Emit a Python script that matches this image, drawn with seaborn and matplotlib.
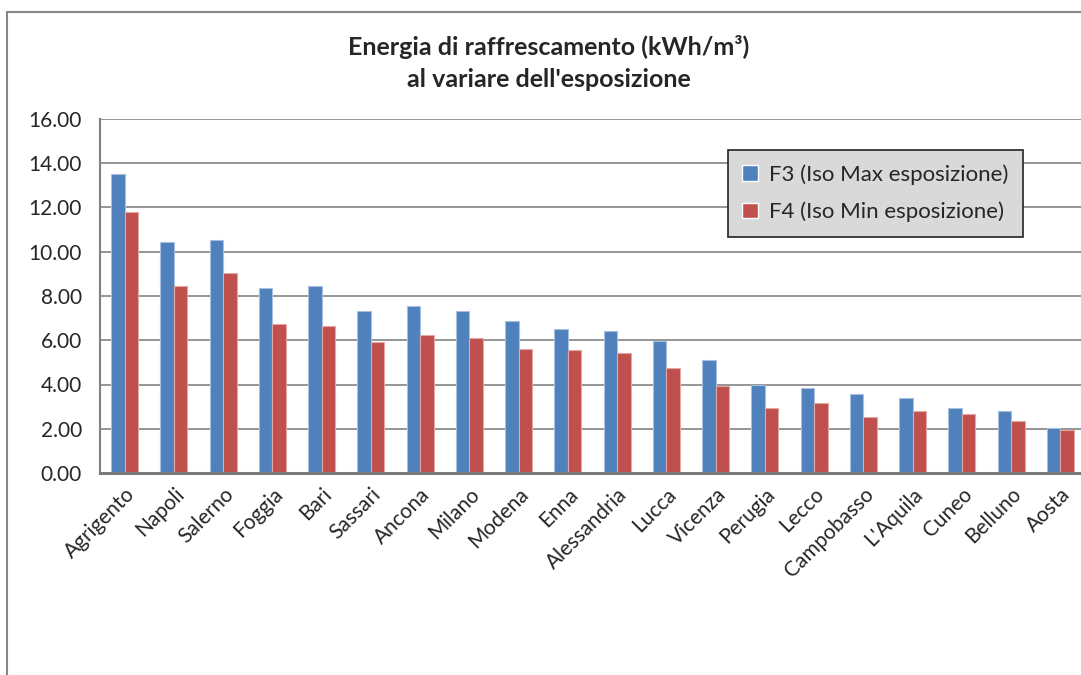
import matplotlib
matplotlib.use("Agg")
import matplotlib.pyplot as plt
import seaborn as sns
import pandas as pd
from matplotlib.patches import Rectangle

# data
cities = ["Agrigento", "Napoli", "Salerno", "Foggia", "Bari", "Sassari", "Ancona",
          "Milano", "Modena", "Enna", "Alessandria", "Lucca", "Vicenza", "Perugia",
          "Lecco", "Campobasso", "L'Aquila", "Cuneo", "Belluno", "Aosta"]
f3_max = [13.50, 10.42, 10.52, 8.37, 8.45, 7.32, 7.53, 7.32, 6.88, 6.53,
          6.44, 5.96, 5.12, 3.96, 3.84, 3.57, 3.39, 2.95, 2.79, 2.02]
f4_min = [11.78, 8.45, 9.05, 6.73, 6.65, 5.90, 6.22, 6.10, 5.60, 5.56,
          5.41, 4.74, 3.94, 2.95, 3.16, 2.51, 2.79, 2.66, 2.35, 1.93]
series_names = ["F3 (Iso Max esposizione)", "F4 (Iso Min esposizione)"]
y_ticks = [0, 2, 4, 6, 8, 10, 12, 14, 16]

df = pd.DataFrame({
    "Città": cities * 2,
    "Energia": f3_max + f4_min,
    "Serie": [series_names[0]] * len(cities) + [series_names[1]] * len(cities),
})

sns.set_style("white")
plt.rcParams['font.family'] = ['Lato', 'DejaVu Sans']

colors = ["#4F81BD", "#C0504D"]
edges = ["#a7c0e0", "#e3a7a5"]

fig = plt.figure(figsize=(10.81, 6.75), dpi=100)
# outer chart frame like the Excel chart area
fig.patches.append(Rectangle((7 / 1081, -0.1), 1.2, 1 - 12 / 675 + 0.1,
                             transform=fig.transFigure, fill=False,
                             edgecolor="#878787", linewidth=1.5))

ax = fig.add_axes([100 / 1081, 202 / 675, 985 / 1081, 354 / 675])
sns.barplot(data=df, x="Città", y="Energia", hue="Serie", palette=colors,
            saturation=1, width=0.55, gap=0, ax=ax, legend=True)

# lighter outline on each bar, per series
for i, container in enumerate(ax.containers):
    for bar in container:
        bar.set_edgecolor(edges[i])
        bar.set_linewidth(0.8)

ax.set_ylim(0, 16)
ax.set_xlim(-0.5, len(cities) - 0.5)
ax.set_yticks(y_ticks)
ax.set_yticklabels([f"{v:.2f}" for v in y_ticks], fontsize=15)
ax.set_xticks(range(len(cities)))
ax.set_xticklabels(cities, rotation=45, ha="right", rotation_mode="anchor", fontsize=15)
ax.tick_params(axis="both", length=0)
ax.tick_params(axis="y", pad=13)
ax.tick_params(axis="x", pad=8)
ax.set_xlabel("")
ax.set_ylabel("")

ax.yaxis.grid(True, color="#8c8c8c", linewidth=1.3)
ax.set_axisbelow(True)
for side in ["top", "right"]:
    ax.spines[side].set_visible(False)
ax.spines["left"].set_color("#808080")
ax.spines["left"].set_linewidth(1.5)
ax.spines["bottom"].set_color("#7a7a7a")
ax.spines["bottom"].set_linewidth(2.2)

fig.text(549 / 1081, 1 - 63 / 675, "Energia di raffrescamento (kWh/m³)\nal variare dell'esposizione",
         ha="center", va="center", fontsize=18, fontweight="bold", linespacing=1.45)

leg = ax.legend(loc="upper left", bbox_to_anchor=(728 / 1081, 1 - 150 / 675),
                bbox_transform=fig.transFigure, fontsize=16, frameon=True,
                fancybox=False, handlelength=0.7, handleheight=0.7,
                handletextpad=0.5, labelspacing=0.75, borderpad=0.65,
                borderaxespad=0, title=None)
frame = leg.get_frame()
frame.set_facecolor("#d9d9d9")
frame.set_edgecolor("#222222")
frame.set_linewidth(1.2)
frame.set_alpha(1)

fig.savefig("out.png", dpi=100)
